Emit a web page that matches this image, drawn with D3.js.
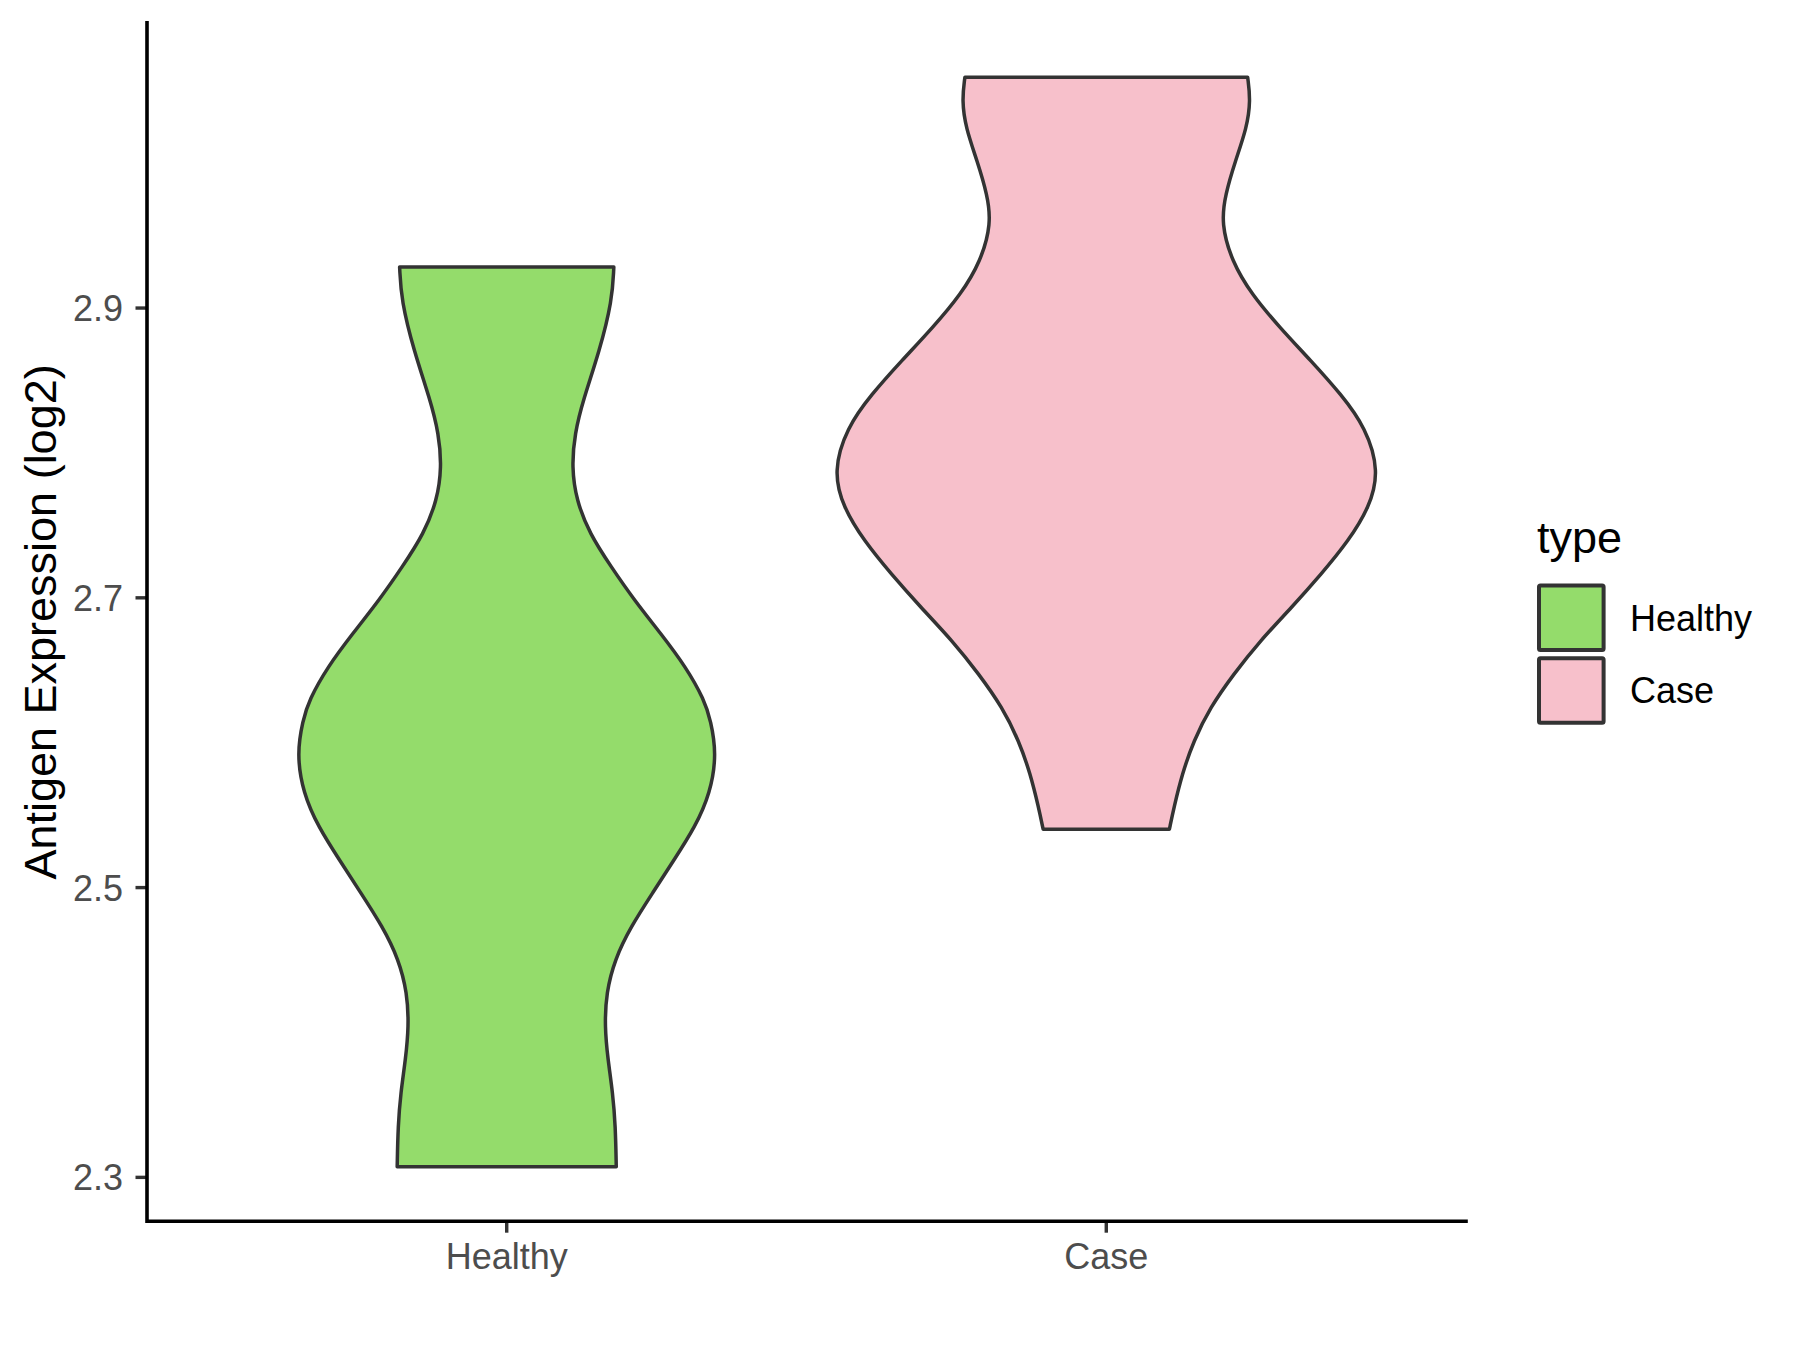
<!DOCTYPE html>
<html lang="en">
  <head>
    <meta charset="utf-8">
    <title>Antigen Expression Violin</title>
    <script src="https://cdnjs.cloudflare.com/ajax/libs/d3/7.8.5/d3.min.js"></script>
    <style>
      body { margin: 0; background: #fff; }
      text { font-family: "Liberation Sans", Arial, sans-serif; }
    </style>
  </head>
  <body>
    <div class="chart"></div>
    <script>

      // categories, colours and tick labels
      var categories = ["Healthy", "Case"];
      var fills = ["#94DC6B", "#F7C0CB"];
      var yTicks = [2.3, 2.5, 2.7, 2.9];

      // violin outlines: value (log2) and relative density width
      var healthyValues = [2.307, 2.335, 2.358, 2.381, 2.404, 2.427, 2.450, 2.473, 2.496, 2.519,
        2.541, 2.565, 2.592, 2.615, 2.629, 2.652, 2.675, 2.698, 2.721, 2.744,
        2.767, 2.790, 2.813, 2.836, 2.870, 2.905, 2.928];
      var healthyDensity = [0.406, 0.403, 0.393, 0.375, 0.363, 0.369, 0.400, 0.461, 0.541, 0.621,
        0.697, 0.755, 0.778, 0.756, 0.733, 0.664, 0.571, 0.473, 0.387, 0.307,
        0.258, 0.241, 0.252, 0.283, 0.344, 0.391, 0.397];

      var caseValues = [2.540, 2.555, 2.578, 2.601, 2.624, 2.647, 2.670, 2.693, 2.716, 2.739,
        2.762, 2.787, 2.817, 2.840, 2.863, 2.886, 2.909, 2.932, 2.958, 2.978,
        3.001, 3.024, 3.043, 3.059];
      var caseDensity = [0.234, 0.251, 0.281, 0.324, 0.385, 0.472, 0.570, 0.687, 0.797, 0.898,
        0.975, 1.012, 0.962, 0.871, 0.760, 0.644, 0.539, 0.465, 0.426, 0.441,
        0.478, 0.521, 0.535, 0.524];

      var svgWidth = 1800;
      var svgHeight = 1350;

      var margin = { top: 22.7, right: 334, bottom: 128.8, left: 147 };
      var width = svgWidth - margin.left - margin.right;
      var height = svgHeight - margin.top - margin.bottom;

      var svg = d3.select(".chart")
        .append("svg")
        .attr("width", svgWidth)
        .attr("height", svgHeight);

      svg.append("rect")
        .attr("width", svgWidth)
        .attr("height", svgHeight)
        .attr("fill", "#fff");

      var chartGroup = svg.append("g")
        .attr("transform", `translate(${margin.left}, ${margin.top})`);

      var groups = [
        { name: categories[0], fill: fills[0], values: healthyValues, density: healthyDensity },
        { name: categories[1], fill: fills[1], values: caseValues, density: caseDensity }
      ];

      // Step 1: scales (ggplot style expansion)
      var allValues = healthyValues.concat(caseValues);
      var lo = d3.min(allValues), hi = d3.max(allValues);
      var pad = (hi - lo) * 0.05;

      var yScale = d3.scaleLinear()
        .domain([lo - pad, hi + pad])
        .range([height, 0]);

      var xScale = d3.scaleBand()
        .domain(categories)
        .range([0, width])
        .paddingInner(0.1)
        .paddingOuter(0.15);

      var wScale = d3.scaleLinear()
        .domain([0, 1])
        .range([0, xScale.bandwidth() / 2]);

      // Step 2: violins
      groups.forEach(function (g) {
        var cx = xScale(g.name) + xScale.bandwidth() / 2;
        var pts = g.values.map((v, i) => ({ v: v, d: g.density[i] }));
        var area = d3.area()
          .curve(d3.curveBasis)
          .y(d => yScale(d.v))
          .x0(d => cx - wScale(d.d))
          .x1(d => cx + wScale(d.d));
        chartGroup.append("path")
          .datum(pts)
          .attr("d", area)
          .attr("fill", g.fill)
          .attr("stroke", "#333333")
          .attr("stroke-width", 3.5)
          .attr("stroke-linejoin", "round");
      });

      // Step 3: axes
      var leftAxis = d3.axisLeft(yScale)
        .tickValues(yTicks)
        .tickFormat(d3.format(".1f"))
        .tickSize(11.5)
        .tickPadding(12.5);

      var bottomAxis = d3.axisBottom(xScale)
        .tickSize(11.5)
        .tickPadding(10.5);

      var yAxisG = chartGroup.append("g").call(leftAxis);
      var xAxisG = chartGroup.append("g")
        .attr("transform", `translate(0, ${height})`)
        .call(bottomAxis);

      [yAxisG, xAxisG].forEach(function (a) {
        a.select(".domain").remove();
        a.selectAll(".tick line")
          .attr("stroke", "#333333")
          .attr("stroke-width", 3.4);
        a.selectAll(".tick text")
          .attr("fill", "#4D4D4D")
          .style("font-size", "36px");
      });
      yAxisG.selectAll(".tick text").attr("dy", "0.36em");

      // axis lines, black
      chartGroup.append("path")
        .attr("d", `M0,0V${height}H${width}`)
        .attr("fill", "none")
        .attr("stroke", "#000")
        .attr("stroke-width", 3.6)
        .attr("stroke-linecap", "square");

      // axis title
      svg.append("text")
        .attr("transform", `translate(55.5, ${margin.top + height / 2}) rotate(-90)`)
        .attr("text-anchor", "middle")
        .style("font-size", "45px")
        .attr("fill", "#000")
        .text("Antigen Expression (log2)");

      // Step 4: legend
      var legend = svg.append("g")
        .attr("transform", "translate(1537, 553)");

      legend.append("text")
        .attr("x", 0)
        .attr("y", 0)
        .style("font-size", "45px")
        .attr("fill", "#000")
        .text("type");

      var keys = legend.selectAll("g.key")
        .data(groups)
        .enter()
        .append("g")
        .attr("class", "key")
        .attr("transform", (d, i) => `translate(0, ${30.5 + i * 72.7})`);

      keys.append("rect")
        .attr("x", 2)
        .attr("y", 2)
        .attr("width", 64.6)
        .attr("height", 64.6)
        .attr("rx", 1.5)
        .attr("fill", d => d.fill)
        .attr("stroke", "#333333")
        .attr("stroke-width", 4);

      keys.append("text")
        .attr("x", 93)
        .attr("y", 34.3 + 12.9)
        .style("font-size", "36px")
        .attr("fill", "#000")
        .text(d => d.name);
    </script>
  </body>
</html>
